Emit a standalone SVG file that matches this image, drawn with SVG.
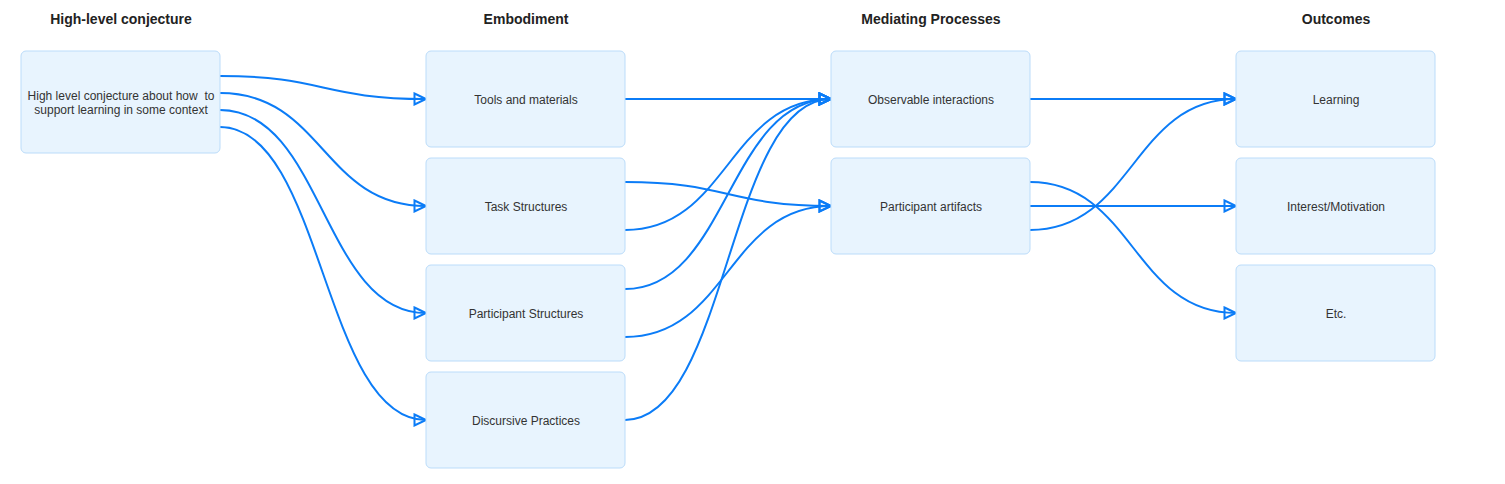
<svg xmlns="http://www.w3.org/2000/svg" width="1505" height="484" viewBox="0 0 1505 484">
<style>
.bg{fill:#ffffff}
.box{fill:#E8F4FE;stroke:#BBDCFA;stroke-width:1}
.t{font-family:"Liberation Sans",Arial,sans-serif;font-size:12px;fill:#333333;text-anchor:middle;dominant-baseline:central}
.h{font-family:"Liberation Sans",Arial,sans-serif;font-size:14px;font-weight:bold;fill:#222222;text-anchor:middle;dominant-baseline:central}
.e{fill:none;stroke:#0B7CF7;stroke-width:2;marker-end:url(#arr)}
</style>
<defs>
<marker id="arr" markerUnits="userSpaceOnUse" markerWidth="16" markerHeight="14" refX="13" refY="7" orient="auto" viewBox="0 0 16 14">
<path d="M1.5,1.5 L13,7 L1.5,12.5 Z" fill="none" stroke="#0B7CF7" stroke-width="2" stroke-linejoin="miter"/>
</marker>
</defs>
<rect class="bg" x="0" y="0" width="1505" height="484"/>
<g id="titles">
<text class="h" x="121" y="19">High-level conjecture</text>
<text class="h" x="526" y="19">Embodiment</text>
<text class="h" x="931" y="19">Mediating Processes</text>
<text class="h" x="1336" y="19">Outcomes</text>
</g>
<g id="connectors">
<path class="e" d="M220,76 C323,76 323,99 426,99"/>
<path class="e" d="M220,93 C323,93 323,206 426,206"/>
<path class="e" d="M220,110 C323,110 323,313 426,313"/>
<path class="e" d="M220,127 C323,127 323,420 426,420"/>
<path class="e" d="M625,99 L831,99"/>
<path class="e" d="M625,182 C728,182 728,206 831,206"/>
<path class="e" d="M625,230 C728,230 728,99 831,99"/>
<path class="e" d="M625,289 C728,289 728,99 831,99"/>
<path class="e" d="M625,337 C728,337 728,206 831,206"/>
<path class="e" d="M625,420 C728,420 728,99 831,99"/>
<path class="e" d="M1030,99 L1236,99"/>
<path class="e" d="M1030,182 C1133,182 1133,313 1236,313"/>
<path class="e" d="M1030,206 L1236,206"/>
<path class="e" d="M1030,230 C1133,230 1133,99 1236,99"/>
</g>
<g id="n-hl"><rect class="box" x="21" y="51" width="199" height="102" rx="5"/><text class="t" x="121" y="96" xml:space="preserve">High level conjecture about how  to</text><text class="t" x="121" y="110">support learning in some context</text></g>
<g id="n-tools"><rect class="box" x="426" y="51" width="199" height="96" rx="5"/><text class="t" x="526" y="100">Tools and materials</text></g>
<g id="n-task"><rect class="box" x="426" y="158" width="199" height="96" rx="5"/><text class="t" x="526" y="207">Task Structures</text></g>
<g id="n-pstruct"><rect class="box" x="426" y="265" width="199" height="96" rx="5"/><text class="t" x="526" y="314">Participant Structures</text></g>
<g id="n-disc"><rect class="box" x="426" y="372" width="199" height="96" rx="5"/><text class="t" x="526" y="421">Discursive Practices</text></g>
<g id="n-obs"><rect class="box" x="831" y="51" width="199" height="96" rx="5"/><text class="t" x="931" y="100">Observable interactions</text></g>
<g id="n-art"><rect class="box" x="831" y="158" width="199" height="96" rx="5"/><text class="t" x="931" y="207">Participant artifacts</text></g>
<g id="n-learn"><rect class="box" x="1236" y="51" width="199" height="96" rx="5"/><text class="t" x="1336" y="100">Learning</text></g>
<g id="n-int"><rect class="box" x="1236" y="158" width="199" height="96" rx="5"/><text class="t" x="1336" y="207">Interest/Motivation</text></g>
<g id="n-etc"><rect class="box" x="1236" y="265" width="199" height="96" rx="5"/><text class="t" x="1336" y="314">Etc.</text></g>
</svg>
